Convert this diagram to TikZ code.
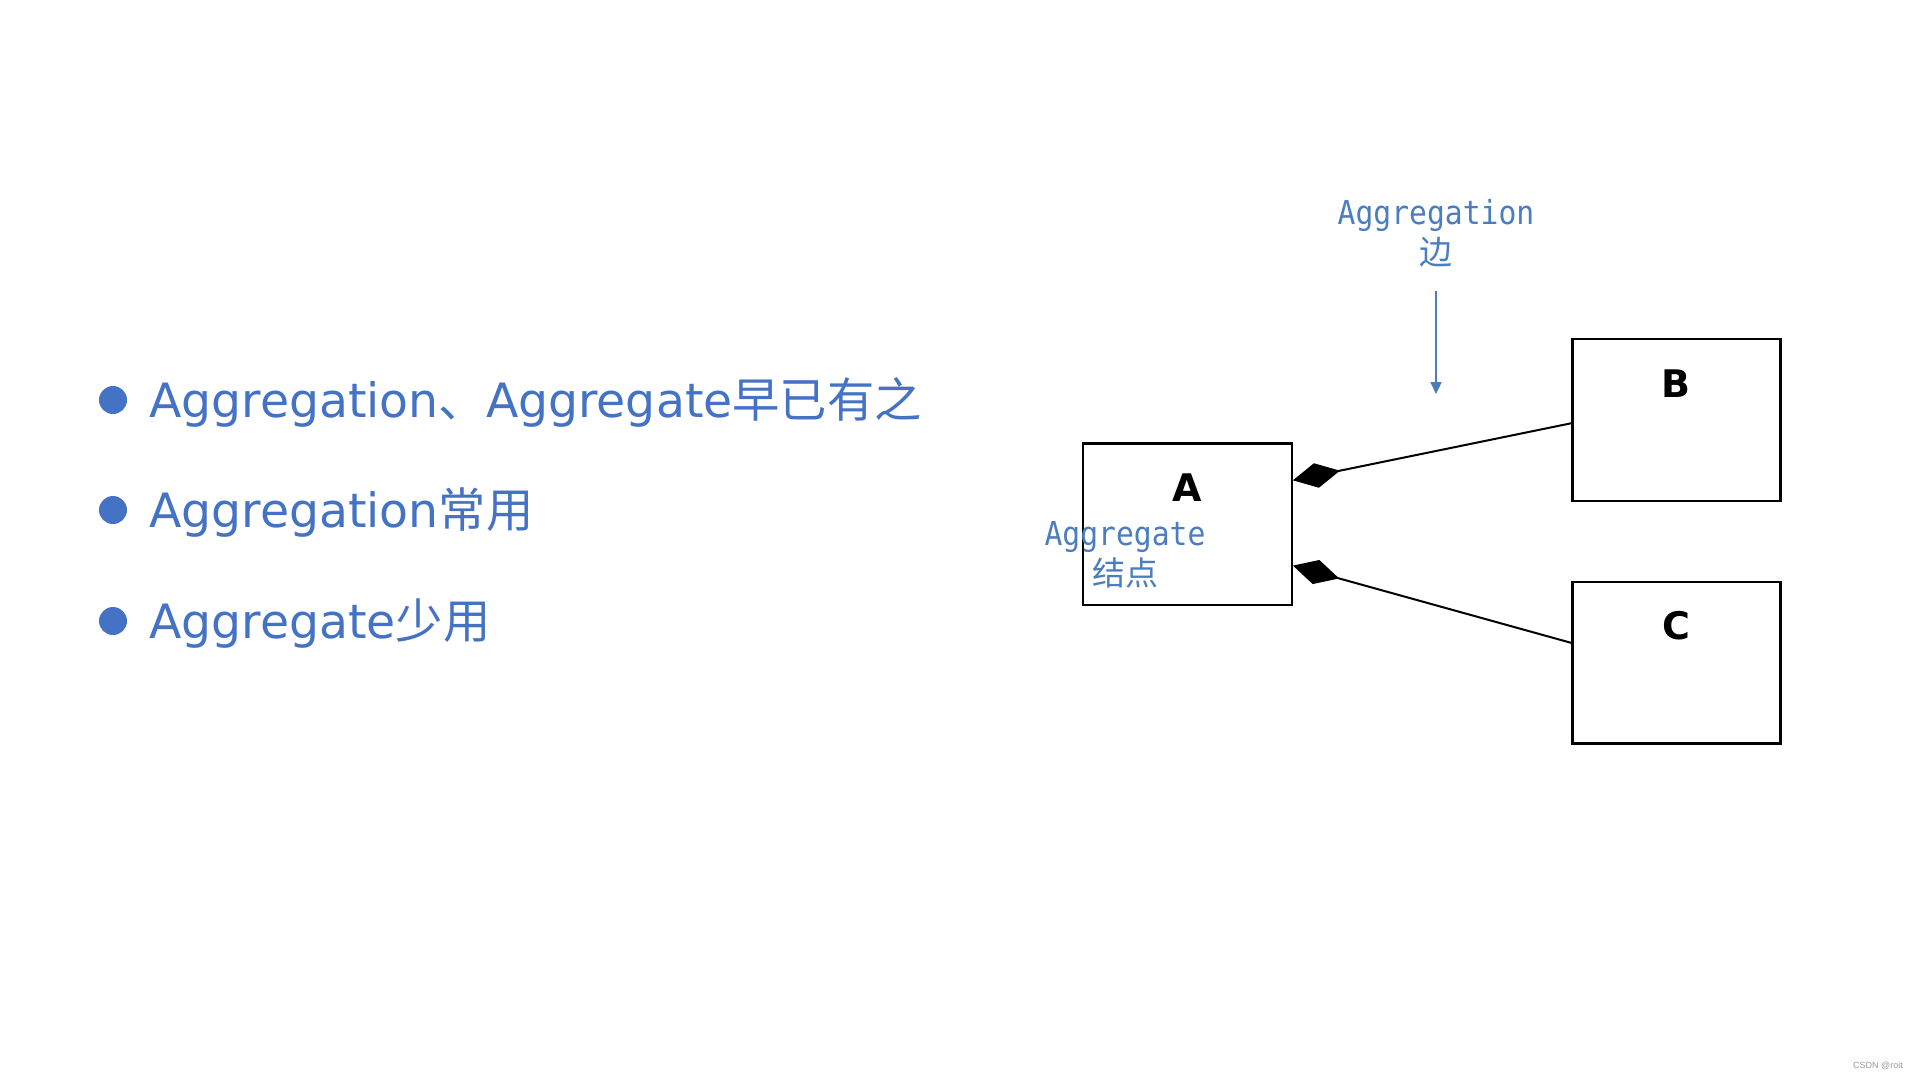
\documentclass[tikz,border=0pt]{standalone}
\usepackage{fontspec}
\usetikzlibrary{arrows.meta,calc}
\setmainfont{DejaVu Sans}
\newfontfamily\cjk{Noto Sans CJK SC}
\newfontfamily\lblmono[FakeStretch=0.90]{DejaVu Sans Mono}
\newfontfamily\wmfont{Liberation Sans}
\definecolor{bblue}{HTML}{4472C4}
\definecolor{lblue}{HTML}{4A7EBF}
\definecolor{wmgray}{HTML}{9A9A9A}
\tikzset{
  umlbox/.style={draw=black, line width=2.4pt, fill=white, inner sep=0pt},
  boxlbl/.style={font=\fontsize{38}{44}\selectfont\bfseries, text=black, inner sep=0pt, anchor=base},
  bulletdot/.style={circle, fill=bblue, draw=none, minimum size=28pt, inner sep=0pt},
  bullettext/.style={font=\fontsize{47.3}{56}\selectfont, text=bblue, inner sep=0pt, anchor=base west},
  annot/.style={font=\fontsize{33}{40}\selectfont, text=lblue, align=center, inner sep=0pt},
  agg/.style={line width=2pt, draw=black, -{Diamond[length=48pt,width=25pt,fill=black]}},
  pointer/.style={line width=2.2pt, draw=lblue, -{Triangle[length=12pt,width=11pt]}}
}
\begin{document}
\begin{tikzpicture}[x=1pt,y=-1pt]
\path[use as bounding box, fill=white] (0,0) rectangle (1920,1080);

% bullets
\node[bulletdot] (d1) at (113,400) {};
\node[bullettext] (t1) at (149,417) {Aggregation{\cjk 、}Aggregate{\cjk 早已有之}};
\node[bulletdot] (d2) at (113,510) {};
\node[bullettext] (t2) at (149,527) {Aggregation{\cjk 常用}};
\node[bulletdot] (d3) at (113,621) {};
\node[bullettext] (t3) at (149,638) {Aggregate{\cjk 少用}};

% boxes
\node[umlbox, minimum width=209pt, minimum height=161.6pt] (A) at (1187.2,524.1) {};
\node[umlbox, minimum width=208pt, minimum height=161.6pt] (B) at (1676.3,420) {};
\node[umlbox, minimum width=208pt, minimum height=161.6pt] (C) at (1676.3,662.5) {};
\node[boxlbl] (Alb) at ($(A.north)+(0,59)$) {A};
\node[boxlbl] (Blb) at ($(B.north)+(0,59)$) {B};
\node[boxlbl] (Clb) at ($(C.north)+(0,59)$) {C};

% aggregation connectors
\draw[agg] ($(B.north west)!0.52!(B.south west)$) -- ($(A.north east)!0.233!(A.south east)$);
\draw[agg] ($(C.north west)!0.38!(C.south west)$) -- ($(A.north east)!0.753!(A.south east)$);

% annotations
\node[annot] (edgelbl) at (1436,233) {{\lblmono Aggregation}\\{\cjk 边}};
\coordinate (edgetip) at (1436,394);
\draw[pointer, shorten <=24pt] (edgelbl) -- (edgetip);

\node[annot] (nodelbl) at (1125,555) {{\lblmono Aggregate}\\{\cjk 结点}};

% watermark
\node[font=\wmfont\fontsize{9}{10}\selectfont, text=wmgray, anchor=base east, inner sep=0pt] (wm) at (1903,1068) {CSDN @roit};
\end{tikzpicture}
\end{document}
